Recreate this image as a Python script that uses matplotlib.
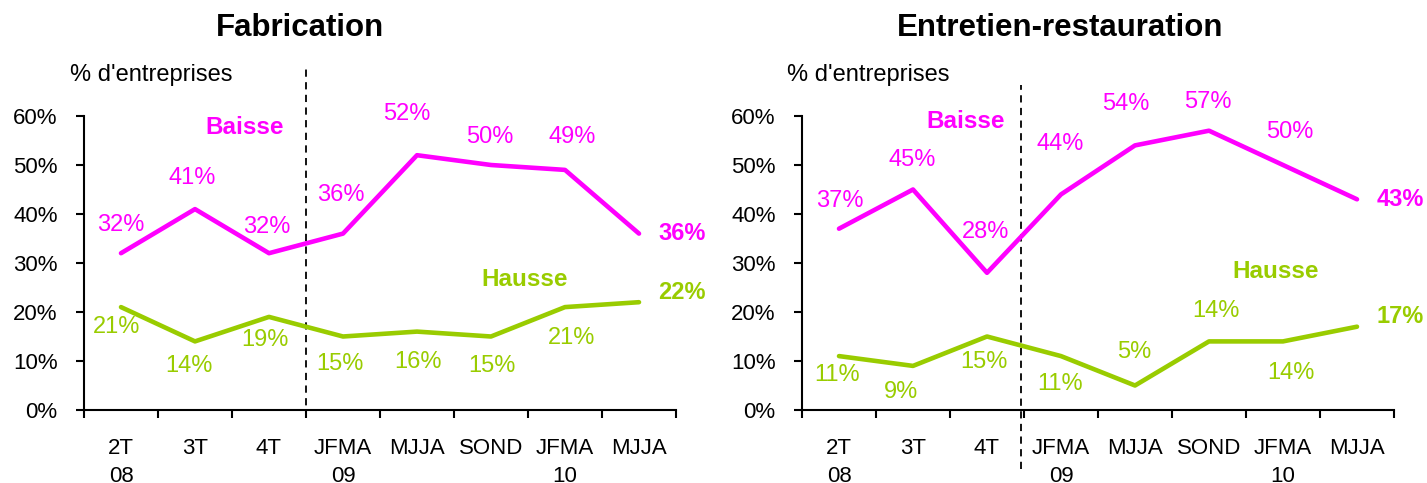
import matplotlib
matplotlib.use('Agg')
import matplotlib.pyplot as plt

plt.rcParams['font.family'] = ['Liberation Sans', 'DejaVu Sans']

# Data
categories = ['2T\n08', '3T', '4T', 'JFMA\n09', 'MJJA', 'SOND', 'JFMA\n10', 'MJJA']
fab_baisse = [32, 41, 32, 36, 52, 50, 49, 36]
fab_hausse = [21, 14, 19, 15, 16, 15, 21, 22]
ent_baisse = [37, 45, 28, 44, 54, 57, 50, 43]
ent_hausse = [11, 9, 15, 11, 5, 14, 14, 17]

# label offsets (pixels) for each point, tuned to the reference layout
fab_baisse_off = [(0, 28), (-3, 31), (-2, 26), (-2, 39), (-10, 41), (-1, 28), (7, 33), (43, 0)]
fab_hausse_off = [(-4, -20), (-6, -25), (-4, -23), (-3, -28), (1, -30), (1, -29), (7, -31), (43, 10)]
ent_baisse_off = [(1, 28), (-1, 30), (-1, 41), (-1, 50), (-9, 41), (-1, 29), (7, 33), (43, 0)]
ent_hausse_off = [(-2, -19), (-12, -26), (-3, -26), (-1, -28), (-1, 33), (7, 30), (8, -32), (43, 10)]

MAGENTA = '#FF00FF'
GREEN = '#99CC00'
W, H = 1427, 483
FS = 16
FS_LABEL = 17


def draw_panel(ax, baisse, hausse, b_off, h_off, title, dash_x, dash_y,
               baisse_xy, hausse_xy, title_x, unit_x):
    x = range(len(categories))
    ax.plot(x, baisse, color=MAGENTA, lw=3.3, solid_capstyle='round', zorder=3)
    ax.plot(x, hausse, color=GREEN, lw=3.3, solid_capstyle='round', zorder=3)

    n = len(categories)
    for i, (v, off) in enumerate(zip(baisse, b_off)):
        ax.annotate('{}%'.format(v), (i, v), xytext=off, textcoords='offset pixels',
                    ha='center', va='center', color=MAGENTA, fontsize=FS_LABEL,
                    fontweight='bold' if i == n - 1 else 'normal',
                    annotation_clip=False)
    for i, (v, off) in enumerate(zip(hausse, h_off)):
        ax.annotate('{}%'.format(v), (i, v), xytext=off, textcoords='offset pixels',
                    ha='center', va='center', color=GREEN, fontsize=FS_LABEL,
                    fontweight='bold' if i == n - 1 else 'normal',
                    annotation_clip=False)

    # vertical dashed separator between 2008 quarters and monthly groups
    ax.plot([dash_x, dash_x], dash_y, color='black', lw=1.3, ls=(0, (4, 3)),
            clip_on=False, zorder=2)

    ax.set_xlim(-0.5, n - 0.5)
    ax.set_ylim(0, 60)
    ax.set_yticks(range(0, 61, 10))
    ax.set_yticklabels(['{}%'.format(t) for t in range(0, 61, 10)], fontsize=FS)
    ax.set_xticks(list(x))
    ax.set_xticklabels(categories, fontsize=FS, linespacing=1.45)
    ax.set_xticks([i - 0.5 for i in range(n + 1)], minor=True)
    ax.tick_params(axis='x', which='major', length=0, pad=20)
    ax.tick_params(axis='x', which='minor', length=6, width=1.5, direction='out')
    ax.tick_params(axis='y', length=6, width=1.5, direction='out', pad=13)
    for s in ['top', 'right']:
        ax.spines[s].set_visible(False)
    for s in ['left', 'bottom']:
        ax.spines[s].set_linewidth(1.5)

    fig = ax.figure
    fig.text(baisse_xy[0] / W, 1 - baisse_xy[1] / H, 'Baisse', color=MAGENTA,
             fontsize=17.5, fontweight='bold', ha='center', va='center')
    fig.text(hausse_xy[0] / W, 1 - hausse_xy[1] / H, 'Hausse', color=GREEN,
             fontsize=17.5, fontweight='bold', ha='center', va='center')
    fig.text(title_x / W, 1 - 28 / H, title, fontsize=22.5, fontweight='bold',
             ha='center', va='center')
    fig.text(unit_x / W, 1 - 75 / H, "% d'entreprises", fontsize=17,
             ha='center', va='center')


def main():
    fig = plt.figure(figsize=(W / 100, H / 100), dpi=100)
    ax1 = fig.add_axes([84 / W, 73 / H, 592 / W, 294 / H])
    ax2 = fig.add_axes([802 / W, 73 / H, 592 / W, 294 / H])

    draw_panel(ax1, fab_baisse, fab_hausse, fab_baisse_off, fab_hausse_off,
               'Fabrication', 2.5, [-1.6, 70.4], (245, 128), (525, 279), 300, 151)
    draw_panel(ax2, ent_baisse, ent_hausse, ent_baisse_off, ent_hausse_off,
               'Entretien-restauration', 2.46, [-12.0, 66.3], (966, 122), (1276, 271),
               1060, 868)

    fig.savefig('out.png', dpi=100)


if __name__ == '__main__':
    main()
